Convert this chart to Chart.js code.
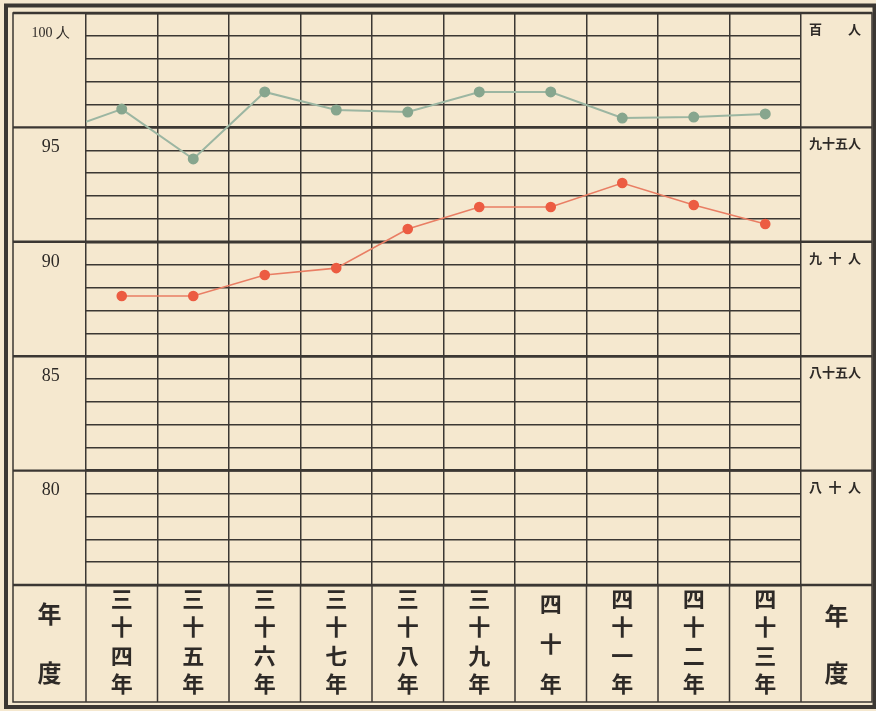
<!DOCTYPE html>
<html>
<head>
<meta charset="utf-8">
<title>年度別 百分率</title>
<script src="https://cdn.jsdelivr.net/npm/chart.js@4.4.1/dist/chart.umd.min.js"></script>
<style>
  html, body { margin: 0; padding: 0; background: #f5e8cf; }
  #wrap { width: 876px; height: 711px; }
</style>
</head>
<body>
<div id="wrap"><canvas id="chart"></canvas></div>
<script>
    "use strict";

    // Years (Meiji 34 - 43)
    var yearLabels = ["三十四年", "三十五年", "三十六年", "三十七年", "三十八年",
                      "三十九年", "四十年", "四十一年", "四十二年", "四十三年"];

    // Upper (green) and lower (red) series
    var greenValues = [95.80, 93.62, 96.55, 95.76, 95.67, 96.55, 96.55, 95.41, 95.45, 95.59];
    var redValues   = [87.63, 87.63, 88.55, 88.85, 90.56, 91.52, 91.52, 92.57, 91.61, 90.78];
    // green line enters from the left edge of the grid
    var greenLeadIn = 95.24;

    // Tick labels
    var yMajorValues     = [100, 95, 90, 85, 80];
    var leftTickLabels   = ["100 人", "95", "90", "85", "80"];
    var rightTickLabels  = ["百\u2003\u2003人", "九十五人", "九\u2002十\u2002人", "八十五人", "八\u2002十\u2002人"];
    var cornerLabel      = ["年", "度"];

    var ink = "#3b3733";
    var cjk = "'Noto Sans CJK JP', 'Noto Sans CJK SC', sans-serif";

    function majorLabel(list, value) {
        var i = yMajorValues.indexOf(value);
        return i >= 0 ? list[i] : "";
    }

    // vertical axes: fixed width, no extra room for the end labels
    function fixWidth(w) {
        return function (scale) {
            scale.width = w;
            scale.paddingTop = 0;
            scale.paddingBottom = 0;
        };
    }

    // Frame, label-row separators and corner text
    var framePlugin = {
        id: "frame",
        beforeDatasetsDraw: function (chart) {
            var ctx = chart.ctx, area = chart.chartArea;
            var x = chart.scales.x, y = chart.scales.y, y2 = chart.scales.y2;
            function line(x1, y1, x2, y2_) {
                ctx.beginPath(); ctx.moveTo(x1, y1); ctx.lineTo(x2, y2_); ctx.stroke();
            }
            ctx.save();
            ctx.strokeStyle = ink;

            // column separators through the year row
            ctx.lineWidth = 1.5;
            for (var i = 0; i <= yearLabels.length; i++) {
                var px = x.getPixelForValue(i - 0.5);
                line(px, area.bottom, px, x.bottom);
            }

            // major lines run across both side columns
            ctx.lineWidth = 2.4;
            yMajorValues.concat([75]).forEach(function (v) {
                var py = y.getPixelForValue(v);
                line(y.left, py, y2.right, py);
            });

            // inner frame
            ctx.lineWidth = 1.5;
            ctx.strokeRect(y.left, area.top, y2.right - y.left, x.bottom - area.top);

            // outer heavy border
            ctx.lineWidth = 4;
            ctx.strokeRect(6, 5.5, 868.5, 701.5);

            // corner cells
            ctx.fillStyle = "#2e2a27";
            ctx.font = "bold 24px " + cjk;
            ctx.textAlign = "center";
            ctx.textBaseline = "middle";
            var lx = (y.left + y.right) / 2, rx = (y2.left + y2.right) / 2;
            ctx.fillText(cornerLabel[0], lx, x.top + 29);
            ctx.fillText(cornerLabel[1], lx, x.top + 88);
            ctx.fillText(cornerLabel[0], rx, x.top + 31);
            ctx.fillText(cornerLabel[1], rx, x.top + 88);
            ctx.restore();
        }
    };

    var ctx1 = document.getElementById("chart").getContext("2d");
    var myChart = new Chart(ctx1, {
        type: "line",
        data: {
            labels: yearLabels,
            datasets: [{
                    label: "green",
                    data: greenValues,
                    borderColor: "#9cb6a2",
                    borderWidth: 2,
                    pointRadius: 4.5,
                    pointBackgroundColor: "#87a68e",
                    pointBorderColor: "#87a68e",
                    tension: 0
                },
                {
                    label: "green-lead",
                    xAxisID: "xLead",
                    data: [{x: -0.5, y: greenLeadIn}, {x: 0, y: greenValues[0]}],
                    borderColor: "#9cb6a2",
                    borderWidth: 2,
                    pointRadius: 0,
                    tension: 0
                },
                {
                    label: "red",
                    data: redValues,
                    borderColor: "#e97e64",
                    borderWidth: 1.6,
                    pointRadius: 4.5,
                    pointBackgroundColor: "#ec5c42",
                    pointBorderColor: "#ec5c42",
                    tension: 0
                }
            ]
        },
        options: {
            responsive: true,
            maintainAspectRatio: false,
            animation: false,
            layout: { padding: { left: 13, top: 13, right: 4, bottom: 9 } },
            plugins: {
                legend: { display: false },
                tooltip: { enabled: false }
            },
            scales: {
                x: {
                    type: "category",
                    offset: true,
                    border: { display: false },
                    grid: { offset: true, color: ink, lineWidth: 1.5, drawTicks: false },
                    ticks: {
                        padding: -1,
                        maxRotation: 0,
                        autoSkip: false,
                        color: "#2e2a27",
                        font: function (c) {
                            var n = yearLabels[c.index] ? yearLabels[c.index].length : 4;
                            return { family: cjk, size: 22, weight: "bold", lineHeight: n === 3 ? 40 / 22 : 28.5 / 22 };
                        },
                        callback: function (value) {
                            return this.getLabelForValue(value).split("");
                        }
                    },
                    afterFit: function (scale) { scale.height = 117; }
                },
                xLead: {
                    type: "linear",
                    display: false,
                    min: -0.5,
                    max: yearLabels.length - 0.5
                },
                y: {
                    position: "left",
                    min: 75,
                    max: 100,
                    border: { display: false },
                    grid: {
                        color: ink,
                        drawTicks: false,
                        lineWidth: function (c) { return c.tick.value % 5 === 0 ? 2.4 : 1.4; }
                    },
                    ticks: {
                        stepSize: 1,
                        autoSkip: false,
                        crossAlign: "center",
                        padding: 16,
                        labelOffset: 20,
                        color: "#2e2a27",
                        font: function (c) {
                            return c.tick && c.tick.value === 100
                                ? { family: "'Liberation Serif', serif", size: 14 }
                                : { family: "'Liberation Serif', serif", size: 18 };
                        },
                        callback: function (value) { return majorLabel(leftTickLabels, value); }
                    },
                    afterFit: fixWidth(73)
                },
                y2: {
                    position: "right",
                    min: 75,
                    max: 100,
                    border: { display: false },
                    grid: { drawOnChartArea: false, drawTicks: false },
                    ticks: {
                        stepSize: 1,
                        autoSkip: false,
                        crossAlign: "center",
                        padding: 8,
                        labelOffset: 16,
                        color: "#2e2a27",
                        font: { family: cjk, size: 13, weight: "bold" },
                        callback: function (value) { return majorLabel(rightTickLabels, value); }
                    },
                    afterFit: fixWidth(71)
                }
            }
        },
        plugins: [framePlugin]
    });
</script>
</body>
</html>
